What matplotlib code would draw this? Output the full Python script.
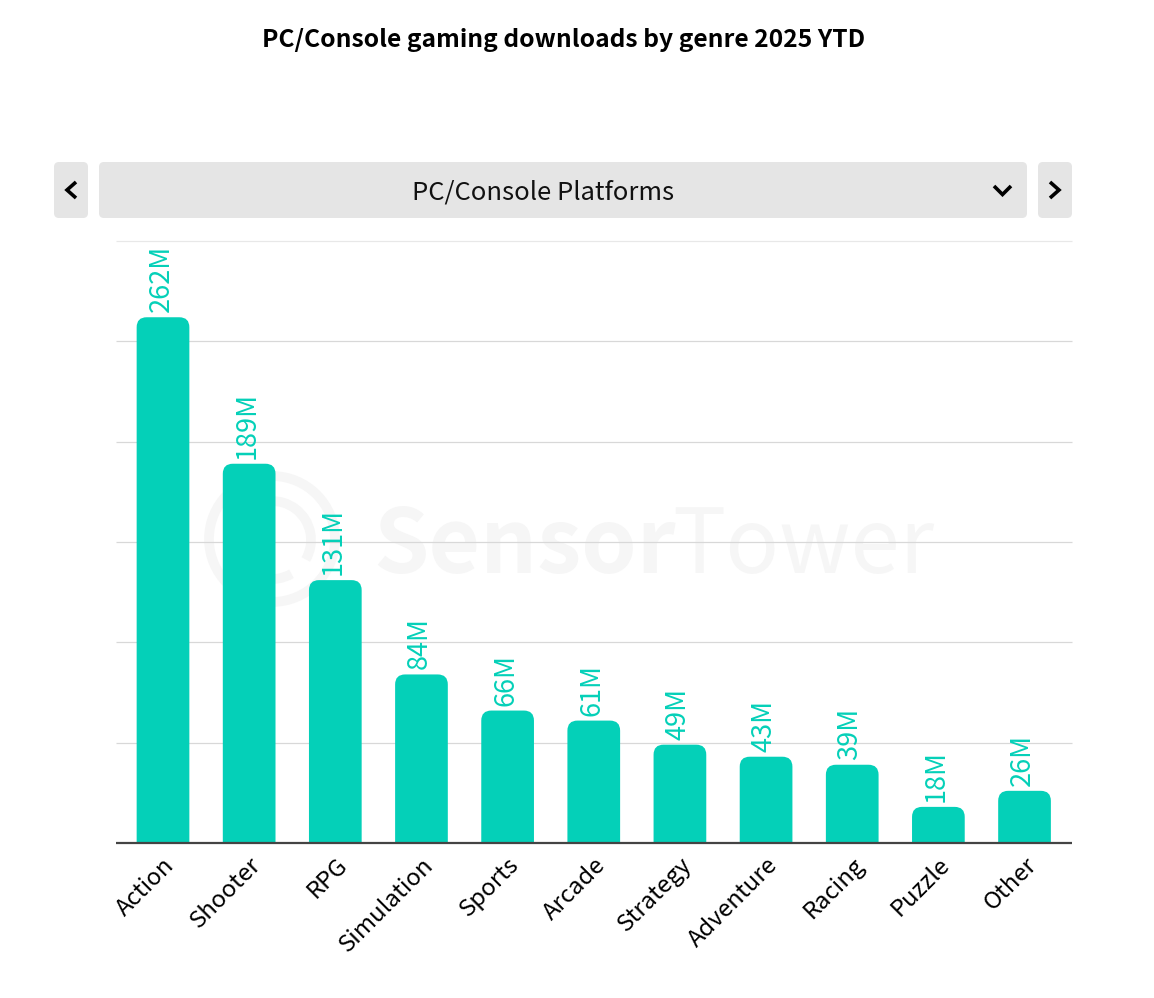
import matplotlib
matplotlib.use("Agg")
import matplotlib.pyplot as plt
from matplotlib.patches import FancyBboxPatch, Arc, Circle
from matplotlib.transforms import offset_copy

genres = ["Action", "Shooter", "RPG", "Simulation", "Sports", "Arcade",
          "Strategy", "Adventure", "Racing", "Puzzle", "Other"]
downloads = [262, 189, 131, 84, 66, 61, 49, 43, 39, 18, 26]
value_labels = ["262M", "189M", "131M", "84M", "66M", "61M", "49M", "43M", "39M", "18M", "26M"]
grid_levels = [50, 100, 150, 200, 250, 300]
title_text = "PC/Console gaming downloads by genre 2025 YTD"
dropdown_text = "PC/Console Platforms"

TEAL = "#04d0b8"
W, H = 1154, 998
DPI = 100
FONT = "Noto Sans CJK SC"
plt.rcParams["font.family"] = [FONT, "DejaVu Sans"]

fig = plt.figure(figsize=(W / DPI, H / DPI), dpi=DPI, facecolor="white")

ui = fig.add_axes([0, 0, 1, 1], zorder=0)
ui.set_xlim(0, W)
ui.set_ylim(H, 0)
ui.axis("off")

WM = "#f6f6f6"
ui.add_patch(Circle((272, 539), 63, fill=False, ec=WM, lw=7))
ui.add_patch(Arc((272, 540), 78, 78, theta1=60, theta2=390, ec=WM, lw=7))
ui.text(373, 573, "Sensor", fontsize=64, fontweight="bold", color=WM, ha="left", va="baseline")
ui.text(672, 573, "Tower", fontsize=64, fontweight="normal", color=WM, ha="left", va="baseline")

ui.text(564, 39.5, title_text, fontsize=17.7, fontweight="bold", color="black", ha="center", va="center")

for x0, x1 in [(54, 88), (99, 1027), (1038, 1072)]:
    ui.add_patch(FancyBboxPatch((x0 + 5, 162 + 5), x1 - x0 - 10, 56 - 10,
                                boxstyle="round,pad=5,rounding_size=5", fc="#e5e5e5", ec="none"))
ui.text(543, 192, dropdown_text, fontsize=18.4, color="#111111", ha="center", va="center")
chev = dict(color="black", lw=2.6, solid_capstyle="butt", solid_joinstyle="miter")
ui.plot([76, 67, 76], [182, 190, 198], **chev)
ui.plot([1050, 1059, 1050], [182, 190, 198], **chev)
ui.plot([994, 1002.5, 1011], [186, 194.5, 186], **chev)

left, right, top, base = 116, 1072, 241, 843
ax = fig.add_axes([left / W, 1 - base / H, (right - left) / W, (base - top) / H], zorder=1)
ax.patch.set_alpha(0)
ax.set_xlim(-0.5456, 10.551)
ax.set_ylim(0, 300)

ax.set_yticks(grid_levels)
ax.tick_params(axis="y", length=0, labelleft=False)
for lv in grid_levels:
    ax.axhline(lv, color="#e8e8e8" if lv == 300 else "#d8d8d8", lw=0.9, zorder=1,
               clip_on=False, solid_capstyle="butt")

for s in ["top", "left", "right"]:
    ax.spines[s].set_visible(False)
ax.spines["bottom"].set_color("#444444")
ax.spines["bottom"].set_linewidth(1.6)
ax.spines["bottom"].set_capstyle("butt")
ax.spines["bottom"].set_zorder(4)

px_x = (right - left) / (ax.get_xlim()[1] - ax.get_xlim()[0])
px_y = (base - top) / 300
bw = 52.7 / px_x
for i, v in enumerate(downloads):
    box = FancyBboxPatch((i - bw / 2, -20), bw, v + 20,
                         boxstyle="round,pad=0,rounding_size=%f" % (10 / px_x),
                         mutation_aspect=px_x / px_y, fc=TEAL, ec="none", zorder=3)
    ax.add_patch(box)
    ax.annotate(value_labels[i], (i, v), xytext=(-1.5, 3.6), textcoords="offset points",
                rotation=90, ha="center", va="bottom", fontsize=19.5, fontweight="medium",
                color=TEAL, zorder=5, annotation_clip=False)

ax.set_xticks(range(len(genres)))
ax.set_xticklabels(genres, rotation=45, ha="right", va="top", rotation_mode="anchor",
                   fontsize=17.2, fontweight="medium", color="#000000")
ax.tick_params(axis="x", length=0, pad=7.5)
for lab in ax.get_xticklabels():
    lab.set_transform(offset_copy(lab.get_transform(), fig=fig, x=0, y=0, units="dots"))

fig.savefig("out.png", dpi=DPI)
